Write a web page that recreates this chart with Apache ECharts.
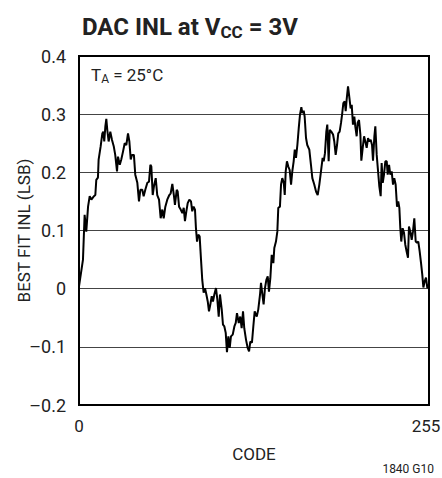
<!DOCTYPE html>
<html>
<head>
<meta charset="utf-8">
<script src="https://cdn.jsdelivr.net/npm/echarts@6/dist/echarts.min.js"></script>
<style>
  html, body { margin: 0; padding: 0; background: #fff; }
  #chart { width: 442px; height: 478px; }
</style>
</head>
<body>
<div id="chart"></div>
<script>
// codigos DAC (eje x) y INL
const codes = [
  0, 2.9, 4.1, 5.3, 6.6, 7.8, 9, 10.9, 11.9, 12.6, 13.8, 14.3, 15.8, 17, 17.7, 18.4, 19.2, 19.9, 20.6, 21.6,
  22.8, 24, 25.3, 26.4, 27.7, 28.4, 29.7, 30.8, 32.1, 33.3, 34.5, 35.7, 36.7, 37.7, 38.6, 40, 41, 42.5, 43.7, 44.7,
  46.1, 47.1, 48.3, 49.8, 51, 52, 52.7, 53.7, 54.6, 55.9, 57, 58.3, 59.5, 60.7, 61.7, 62.9, 64.3, 65.8, 66.8, 68,
  69.2, 69.9, 71.2, 71.9, 72.9, 74.1, 75.3, 76.3, 77.2, 78.2, 79.2, 80.4, 81.6, 82.5, 83.5, 84.5, 85.2, 86, 86.9, 87.9,
  88.9, 89.8, 90.8, 91.8, 92.8, 93.8, 94.7, 95.7, 96.7, 97.6, 98.6, 99.8, 100.8, 101.8, 102.7, 104, 104.9, 105.9, 106.9, 107.8,
  108.8, 109.8, 110.7, 112, 113.2, 114.2, 115.1, 116.4, 117.5, 118.5, 119.5, 120.4, 121.7, 122.9, 123.9, 124.8, 126, 127, 128, 129.5,
  130.6, 131.9, 132.6, 133.6, 134.5, 135.5, 136.5, 137.5, 138.4, 139.4, 140.4, 141.6, 142.3, 143.5, 144.5, 145.2, 146.4, 147.2, 148.1, 149.2,
  149.9, 150.6, 151.5, 152.5, 153.5, 154.5, 155.4, 156.4, 157.2, 158.1, 159.1, 160.1, 161, 162, 162.7, 163.7, 164.4, 165.4, 166.3, 167.8,
  169, 170, 171.4, 172.7, 173.9, 175.1, 176.3, 177.5, 178.3, 179.2, 180.2, 180.9, 181.9, 182.7, 183.8, 185.1, 186, 187, 188, 188.9,
  189.9, 190.9, 191.8, 192.6, 193.6, 194.3, 195, 196, 196.9, 197.9, 198.7, 199.6, 200.6, 201.3, 202.3, 203, 204, 205, 205.7, 206.7,
  207.7, 208.6, 209.6, 210.6, 211.5, 212.5, 213.5, 214.2, 215.2, 215.9, 216.9, 217.9, 218.8, 219.8, 220.5, 221.3, 222.2, 223.2, 224.2, 224.9,
  225.9, 226.8, 227.8, 228.8, 229.7, 230.7, 231.7, 232.6, 233.4, 234.1, 234.8, 235.8, 236.8, 237.7, 238.7, 239.7, 240.4, 241.4, 242.4, 243.3,
  244.3, 245.3, 246.3, 247.2, 248.2, 249.2, 250.1, 250.9, 251.9, 252.8, 253.8, 255
];
const inl = [
  0.004, 0.05, 0.127, 0.098, 0.141, 0.159, 0.153, 0.159, 0.161, 0.187, 0.191, 0.222, 0.245, 0.267, 0.27, 0.253, 0.279, 0.292, 0.273, 0.253,
  0.27, 0.256, 0.245, 0.23, 0.2015, 0.227, 0.213, 0.222, 0.236, 0.25, 0.247, 0.267, 0.253, 0.222, 0.23, 0.23, 0.196, 0.182, 0.15, 0.17,
  0.17, 0.159, 0.17, 0.182, 0.184, 0.213, 0.21, 0.161, 0.176, 0.19, 0.161, 0.153, 0.121, 0.136, 0.121, 0.141, 0.153, 0.161, 0.164, 0.18,
  0.159, 0.144, 0.17, 0.167, 0.141, 0.136, 0.13, 0.139, 0.116, 0.133, 0.147, 0.153, 0.15, 0.133, 0.141, 0.136, 0.104, 0.081, 0.093, 0.09,
  0.05, 0.015, -0.007, 0.001, -0.01, -0.022, -0.039, -0.027, -0.013, -0.022, -0.01, 0.001, -0.019, -0.048, -0.01, -0.036, -0.062, -0.065, -0.076, -0.109,
  -0.082, -0.102, -0.082, -0.079, -0.065, -0.059, -0.042, -0.059, -0.048, -0.068, -0.039, -0.068, -0.088, -0.102, -0.108, -0.091, -0.093, -0.065, -0.039, -0.048,
  -0.036, -0.01, 0.01, -0.01, -0.027, 0.001, 0.015, 0.021, -0.005, 0.018, 0.058, 0.044, 0.07, 0.081, 0.098, 0.139, 0.141, 0.179, 0.19, 0.182,
  0.161, 0.2015, 0.219, 0.21, 0.204, 0.179, 0.2015, 0.219, 0.239, 0.225, 0.247, 0.276, 0.299, 0.312, 0.302, 0.306, 0.296, 0.259, 0.247, 0.239,
  0.213, 0.19, 0.179, 0.167, 0.161, 0.179, 0.2015, 0.225, 0.219, 0.233, 0.27, 0.282, 0.219, 0.273, 0.27, 0.265, 0.253, 0.23, 0.247, 0.267,
  0.27, 0.285, 0.302, 0.319, 0.322, 0.305, 0.325, 0.348, 0.33, 0.31, 0.316, 0.282, 0.296, 0.279, 0.262, 0.285, 0.29, 0.265, 0.22, 0.242,
  0.262, 0.253, 0.242, 0.259, 0.253, 0.256, 0.247, 0.22, 0.262, 0.279, 0.23, 0.2015, 0.176, 0.159, 0.216, 0.182, 0.196, 0.219, 0.219, 0.196,
  0.213, 0.196, 0.2015, 0.179, 0.19, 0.179, 0.141, 0.15, 0.139, 0.104, 0.081, 0.104, 0.096, 0.076, 0.064, 0.053, 0.107, 0.098, 0.084, 0.098,
  0.121, 0.081, 0.079, 0.081, 0.064, 0.044, 0.024, 0.002, 0.013, 0.019, 0.001, 0.007
];

const fuente = 'Roboto, "Liberation Sans", sans-serif';

// renderer svg: el marco del area no aparecia con canvas
const chart = echarts.init(document.getElementById('chart'), null, { renderer: 'svg' });
chart.setOption({
  animation: false,
  backgroundColor: '#fff',
  textStyle: { fontFamily: fuente },
  title: {
    text: '{a|DAC INL at V}{s|CC}{a| = 3V}',
    left: 77,
    top: 8,
    textStyle: {
      rich: {
        a: { fontFamily: fuente, fontWeight: 'bold', fontSize: 24, color: '#222' },
        s: { fontFamily: fuente, fontWeight: 'bold', fontSize: 17, color: '#222', padding: [10, 0, 0, 0] }
      }
    }
  },
  grid: {
    left: 79, right: 13, top: 56, bottom: 73,
    show: true, borderColor: '#000', borderWidth: 2, backgroundColor: 'transparent',
    containLabel: false, outerBoundsMode: 'none'
  },
  graphic: [
    {
      type: 'rect', z: 100, silent: true,
      shape: { x: 79, y: 56, width: 350, height: 349 },
      style: { fill: 'transparent', stroke: '#000', lineWidth: 2 }
    },
    {
      type: 'text', left: 91, top: 66,
      style: {
        text: '{a|T}{s|A}{a| = 25°C}',
        rich: {
          a: { fontFamily: fuente, fontSize: 17, fill: '#222' },
          s: { fontFamily: fuente, fontSize: 12, fill: '#222', padding: [8, 0, 0, 0] }
        }
      }
    },
    {
      type: 'text', right: 8, top: 463,
      style: { text: '1840 G10', fontFamily: fuente, fontSize: 12, fill: '#222' }
    }
  ],
  xAxis: {
    type: 'value', min: 0, max: 255, interval: 255,
    name: 'CODE', nameLocation: 'middle', nameGap: 40, nameMoveOverlap: false,
    nameTextStyle: { fontFamily: fuente, fontSize: 17, color: '#222' },
    axisLine: { show: false },
    axisTick: { show: false }, splitLine: { show: false },
    axisLabel: {
      fontFamily: fuente, fontSize: 17, color: '#222', margin: 12,
      formatter: function (v) { return v === 255 ? '{m|255}' : String(v); },
      rich: { m: { fontFamily: fuente, fontSize: 17, color: '#222', padding: [0, 6, 0, 0] } }
    }
  },
  yAxis: {
    type: 'value', min: -0.2, max: 0.4, interval: 0.1,
    name: 'BEST FIT INL (LSB)', nameLocation: 'middle', nameGap: 47, nameMoveOverlap: false,
    nameTextStyle: { fontFamily: fuente, fontSize: 17, color: '#222' },
    axisLine: { show: false },
    axisTick: { show: false },
    splitLine: { show: true, lineStyle: { color: '#444', width: 1 } },
    axisLabel: {
      fontFamily: fuente, fontSize: 18, color: '#222', margin: 13,
      formatter: function (v) {
        const r = Math.round(v * 10) / 10;
        if (r === 0) return '0';
        return r < 0 ? '\u2013' + Math.abs(r).toFixed(1) : r.toFixed(1);
      }
    }
  },
  series: [{
    type: 'line',
    data: codes.map((c, i) => [c, inl[i]]),
    showSymbol: false,
    lineStyle: { color: '#000', width: 2 },
    clip: true
  }]
});
</script>
</body>
</html>
